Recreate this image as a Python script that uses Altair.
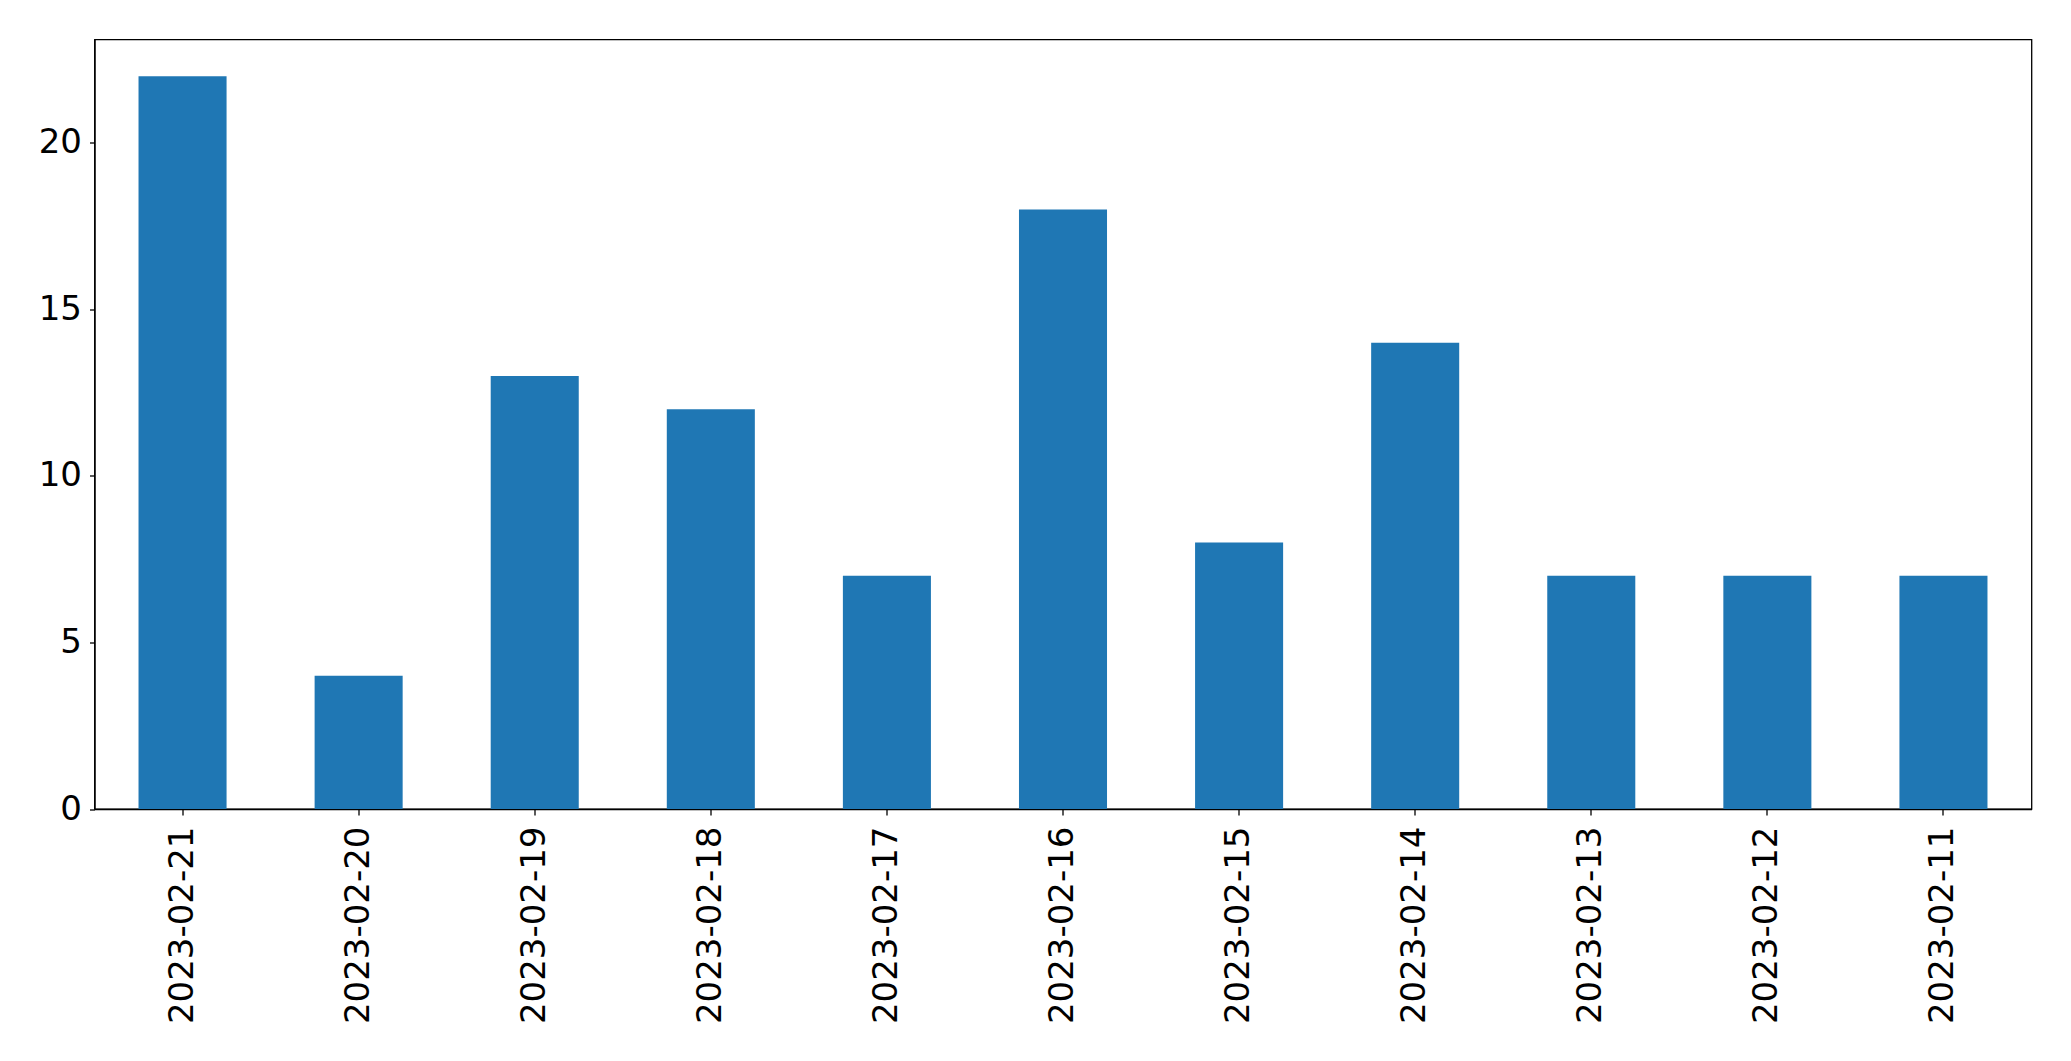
import altair as alt
import pandas as pd

dates = ["2023-02-21", "2023-02-20", "2023-02-19", "2023-02-18", "2023-02-17",
         "2023-02-16", "2023-02-15", "2023-02-14", "2023-02-13", "2023-02-12", "2023-02-11"]
counts = [22, 4, 13, 12, 7, 18, 8, 14, 7, 7, 7]

df = pd.DataFrame({"date": dates, "count": counts})

FONT = "DejaVu Sans"

chart = alt.Chart(df).mark_bar(color="#1f77b4").encode(
    x=alt.X("date:N", sort=dates, title=None,
            scale=alt.Scale(paddingInner=0.5, paddingOuter=0.25),
            axis=alt.Axis(labelAngle=270, labelFontSize=34, labelFont=FONT,
                          labelColor="black", tickColor="black", tickSize=6,
                          tickWidth=1.3, labelPadding=11, domainColor="black",
                          domainWidth=1.3, grid=False, labelLimit=0)),
    y=alt.Y("count:Q", title=None,
            scale=alt.Scale(domain=[0, 23.1], nice=False, zero=True),
            axis=alt.Axis(values=[0, 5, 10, 15, 20], labelFontSize=34, labelFont=FONT,
                          labelColor="black", tickColor="black", tickSize=5,
                          tickWidth=1.3, labelPadding=8, domainColor="black",
                          domainWidth=1.3, grid=False, labelLimit=0)),
).properties(
    width=1937,
    height=769.5,
    autosize=alt.AutoSizeParams(type="none"),
    padding={"left": 86.5, "top": 31.5, "right": 20, "bottom": 220},
    background="white",
).configure_view(
    stroke="black", strokeWidth=1.3
)

chart.save("out.html", embed_options={"renderer": "svg", "actions": False})
